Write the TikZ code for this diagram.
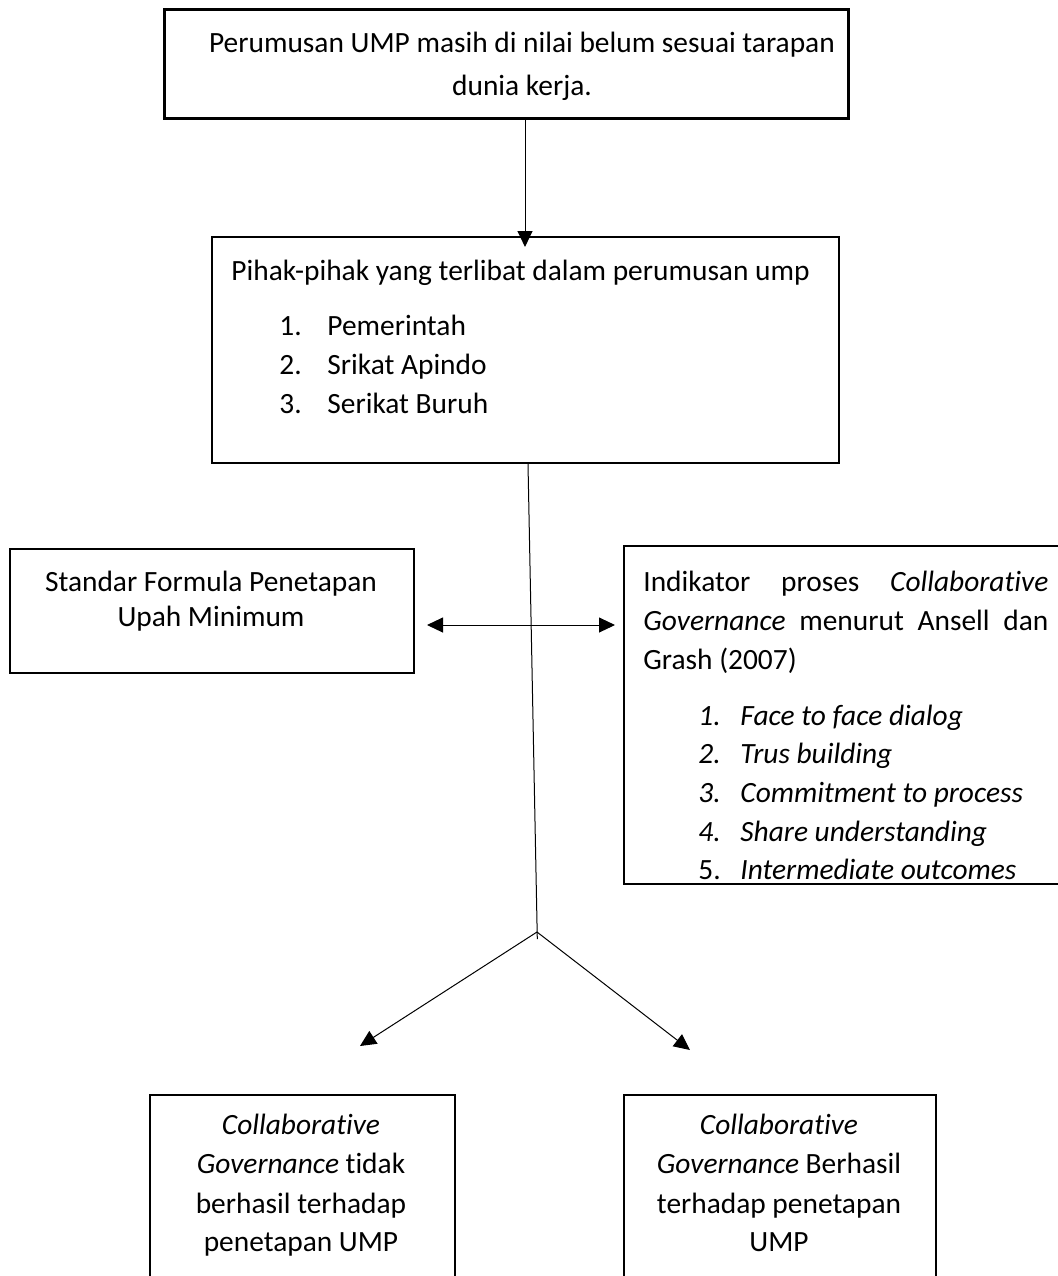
\documentclass[tikz,border=0pt]{standalone}
\usepackage{fontspec}
\setmainfont{Carlito}[Ligatures={NoCommon}]
\usetikzlibrary{arrows.meta}
\begin{document}
\begin{tikzpicture}[x=0.5pt,y=-0.5pt,
  box/.style={draw, inner sep=0pt, anchor=north west},
  txt/.style={inner sep=0pt, anchor=base, font=\fontsize{14.7}{19.5}\selectfont},
  ltxt/.style={txt, anchor=base west},
  arr/.style={line width=0.5pt, -{Triangle[length=8pt,width=7.5pt]}},
  darr/.style={line width=0.5pt, {Triangle[length=8pt,width=7.5pt]}-{Triangle[length=8pt,width=7.5pt]}},
]
\useasboundingbox[fill=white] (0,0) rectangle (1058,1276);

% boxes
\node[box, line width=1.5pt, minimum width=342pt, minimum height=54.5pt] (top) at (163,8) {};
\node[box, line width=0.9pt, minimum width=313.5pt, minimum height=113pt] (pihak) at (211,236) {};
\node[box, line width=0.8pt, minimum width=202pt, minimum height=62pt] (std) at (9,548) {};
\node[box, line width=1pt, minimum width=250pt, minimum height=169pt] (ind) at (623,545) {};
\node[box, line width=0.8pt, minimum width=152.5pt, minimum height=125pt] (tidak) at (149,1094) {};
\node[box, line width=0.8pt, minimum width=156pt, minimum height=125pt] (hasil) at (623,1094) {};

% texts
\node[txt] (t1) at (522,52) {Perumusan UMP masih di nilai belum sesuai tarapan};
\node[txt] (t2) at (522,95) {dunia kerja.};

\node[ltxt] (p0) at (231,280) {Pihak-pihak yang terlibat dalam perumusan ump};
\node[ltxt] (p1n) at (279,335) {1.};
\node[ltxt] (p1) at (327,335) {Pemerintah};
\node[ltxt] (p2n) at (279,374) {2.};
\node[ltxt] (p2) at (327,374) {Srikat Apindo};
\node[ltxt] (p3n) at (279,413) {3.};
\node[ltxt] (p3) at (327,413) {Serikat Buruh};

\node[txt] (s1) at (211,591) {Standar Formula Penetapan};
\node[txt] (s2) at (211,626) {Upah Minimum};

\node[ltxt] (i1) at (643,591) {\makebox[202.5pt][s]{Indikator proses \textit{Collaborative}}};
\node[ltxt] (i2) at (643,630) {\makebox[202.5pt][s]{\textit{Governance} menurut Ansell dan}};
\node[ltxt] (i3) at (643,669) {Grash (2007)};
\node[ltxt] (k1n) at (698,725) {\textit{1.}};
\node[ltxt] (k1) at (740,725) {\textit{Face to face dialog}};
\node[ltxt] (k2n) at (698,763) {\textit{2.}};
\node[ltxt] (k2) at (740,763) {\textit{Trus building}};
\node[ltxt] (k3n) at (698,802) {\textit{3.}};
\node[ltxt] (k3) at (740,802) {\textit{Commitment to process}};
\node[ltxt] (k4n) at (698,841) {\textit{4.}};
\node[ltxt] (k4) at (740,841) {\textit{Share understanding}};
\node[ltxt] (k5n) at (698,879) {5.};
\node[ltxt] (k5) at (740,879) {\textit{Intermediate outcomes}};

\node[txt] (a1) at (301,1134) {\textit{Collaborative}};
\node[txt] (a2) at (301,1173) {\textit{Governance} tidak};
\node[txt] (a3) at (301,1213) {berhasil terhadap};
\node[txt] (a4) at (301,1251) {penetapan UMP};

\node[txt] (b1) at (779,1134) {\textit{Collaborative}};
\node[txt] (b2) at (779,1173) {\textit{Governance} Berhasil};
\node[txt] (b3) at (779,1213) {terhadap penetapan};
\node[txt] (b4) at (779,1251) {UMP};

% connectors
\coordinate (c1) at (525,0);
\coordinate (c2) at (525,247);
\coordinate (c3) at (528,0);
\coordinate (apex) at (537,932);
\coordinate (vend) at (537.3,939);
\coordinate (lt) at (360,1046);
\coordinate (rt) at (690,1050);
\coordinate (dl) at (427,625);
\coordinate (dr) at (615,625);

\draw[arr] (top.south -| c1) -- (c2);
\draw[line width=0.5pt] (pihak.south -| c3) -- (vend);
\draw[arr] (apex) -- (lt);
\draw[arr] (apex) -- (rt);
\draw[darr] (dl) -- (dr);
\end{tikzpicture}
\end{document}
